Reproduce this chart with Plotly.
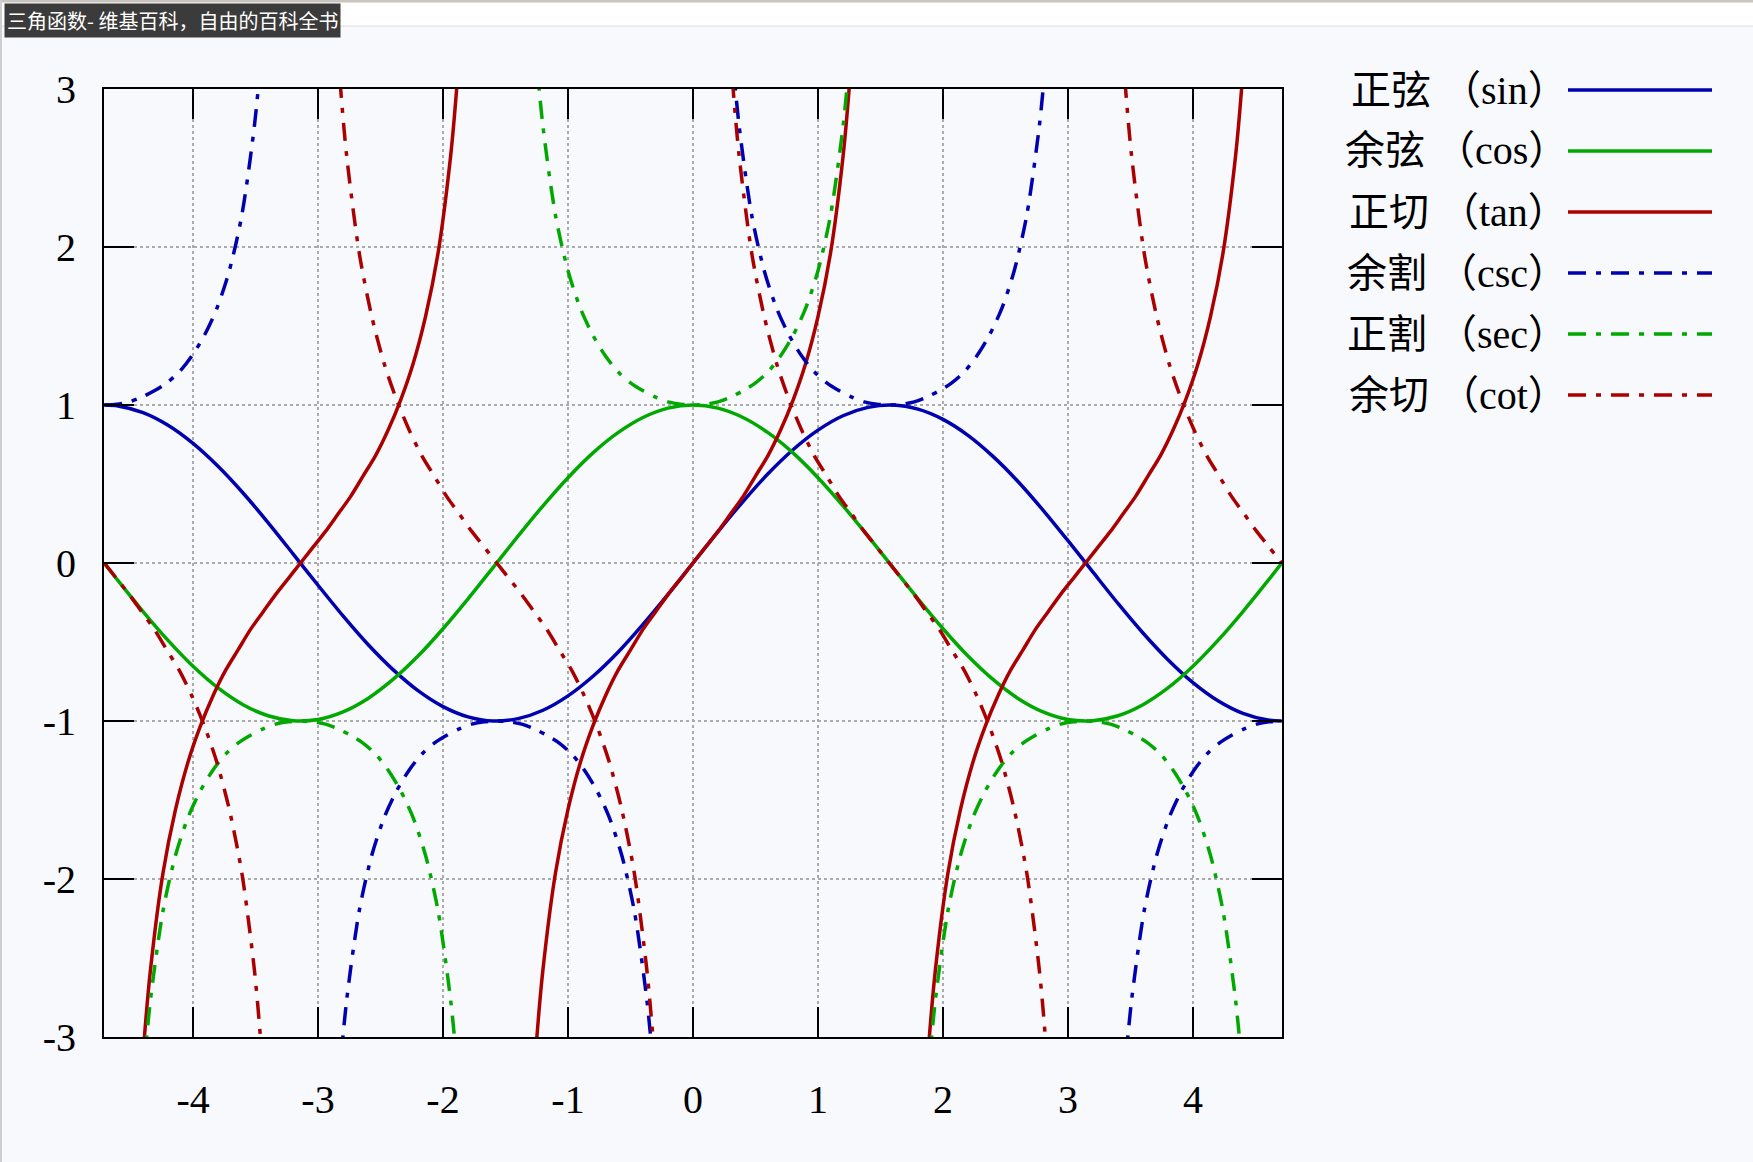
import plotly.graph_objects as go

# ---------------- data ----------------
x_sc = [-4.71, -4.6, -4.4, -4.2, -4.0, -3.8, -3.6, -3.4, -3.2, -3.0, -2.8, -2.6, -2.4, -2.2,
        -2.0, -1.8, -1.6, -1.4, -1.2, -1.0, -0.8, -0.6, -0.4, -0.2, 0.0, 0.2, 0.4, 0.6, 0.8,
        1.0, 1.2, 1.4, 1.6, 1.8, 2.0, 2.2, 2.4, 2.6, 2.8, 3.0, 3.2, 3.4, 3.6, 3.8, 4.0, 4.2,
        4.4, 4.6, 4.71]
sin_y = [1.0, 0.994, 0.952, 0.872, 0.757, 0.612, 0.443, 0.256, 0.058, -0.141, -0.335, -0.516,
         -0.675, -0.808, -0.909, -0.974, -1.0, -0.985, -0.932, -0.841, -0.717, -0.565, -0.389,
         -0.199, 0.0, 0.199, 0.389, 0.565, 0.717, 0.841, 0.932, 0.985, 1.0, 0.974, 0.909, 0.808,
         0.675, 0.516, 0.335, 0.141, -0.058, -0.256, -0.443, -0.612, -0.757, -0.872, -0.952,
         -0.994, -1.0]
cos_y = [0.0, -0.112, -0.307, -0.490, -0.654, -0.791, -0.897, -0.967, -0.998, -0.990, -0.942,
         -0.857, -0.737, -0.589, -0.416, -0.227, -0.029, 0.170, 0.362, 0.540, 0.697, 0.825,
         0.921, 0.980, 1.0, 0.980, 0.921, 0.825, 0.697, 0.540, 0.362, 0.170, -0.029, -0.227,
         -0.416, -0.589, -0.737, -0.857, -0.942, -0.990, -0.998, -0.967, -0.897, -0.791, -0.654,
         -0.490, -0.307, -0.112, 0.0]

tan_x = [-4.44, -4.39, -4.34, -4.24, -4.14, -4.04, -3.94, -3.84, -3.74, -3.64, -3.54, -3.44, -3.34,
         -3.24, -3.14, -3.04, -2.94, -2.84, -2.74, -2.64, -2.54, -2.44, -2.34, -2.24, -2.14, -2.04,
         -1.94, -1.89, -1.84, None,
         -1.3, -1.25, -1.2, -1.1, -1.0, -0.9, -0.8, -0.7, -0.6, -0.5, -0.4, -0.3, -0.2, -0.1, 0.0,
         0.1, 0.2, 0.3, 0.4, 0.5, 0.6, 0.7, 0.8, 0.9, 1.0, 1.1, 1.2, 1.25, 1.3, None,
         1.84, 1.89, 1.94, 2.04, 2.14, 2.24, 2.34, 2.44, 2.54, 2.64, 2.74, 2.84, 2.94, 3.04, 3.14,
         3.24, 3.34, 3.44, 3.54, 3.64, 3.74, 3.84, 3.94, 4.04, 4.14, 4.24, 4.34, 4.39, 4.44]
tan_y = [-3.60, -3.01, -2.57, -1.96, -1.56, -1.26, -1.03, -0.84, -0.68, -0.55, -0.42, -0.31, -0.20,
         -0.10, 0.0, 0.10, 0.20, 0.31, 0.42, 0.55, 0.68, 0.84, 1.03, 1.26, 1.56, 1.96, 2.57, 3.01,
         3.60, None,
         -3.60, -3.01, -2.57, -1.96, -1.56, -1.26, -1.03, -0.84, -0.68, -0.55, -0.42, -0.31, -0.20,
         -0.10, 0.0, 0.10, 0.20, 0.31, 0.42, 0.55, 0.68, 0.84, 1.03, 1.26, 1.56, 1.96, 2.57, 3.01,
         3.60, None,
         -3.60, -3.01, -2.57, -1.96, -1.56, -1.26, -1.03, -0.84, -0.68, -0.55, -0.42, -0.31, -0.20,
         -0.10, 0.0, 0.10, 0.20, 0.31, 0.42, 0.55, 0.68, 0.84, 1.03, 1.26, 1.56, 1.96, 2.57, 3.01,
         3.60]

csc_x = [-4.71, -4.61, -4.51, -4.41, -4.31, -4.21, -4.11, -4.01, -3.91, -3.81, -3.71, -3.61, -3.51,
         -3.46, -3.41, None,
         -2.87, -2.82, -2.77, -2.67, -2.57, -2.47, -2.37, -2.27, -2.17, -2.07, -1.97, -1.87, -1.77,
         -1.67, -1.57, -1.47, -1.37, -1.27, -1.17, -1.07, -0.97, -0.87, -0.77, -0.67, -0.57, -0.47,
         -0.37, -0.32, -0.27, None,
         0.27, 0.32, 0.37, 0.47, 0.57, 0.67, 0.77, 0.87, 0.97, 1.07, 1.17, 1.27, 1.37, 1.47, 1.57,
         1.67, 1.77, 1.87, 1.97, 2.07, 2.17, 2.27, 2.37, 2.47, 2.57, 2.67, 2.77, 2.82, 2.87, None,
         3.41, 3.46, 3.51, 3.61, 3.71, 3.81, 3.91, 4.01, 4.11, 4.21, 4.31, 4.41, 4.51, 4.61, 4.71]
csc_y = [1.0, 1.005, 1.02, 1.05, 1.09, 1.14, 1.21, 1.31, 1.44, 1.61, 1.85, 2.20, 2.76, 3.17, 3.74,
         None,
         -3.74, -3.17, -2.76, -2.20, -1.85, -1.61, -1.44, -1.31, -1.21, -1.14, -1.09, -1.05, -1.02,
         -1.005, -1.0, -1.005, -1.02, -1.05, -1.09, -1.14, -1.21, -1.31, -1.44, -1.61, -1.85, -2.20,
         -2.76, -3.17, -3.74, None,
         3.74, 3.17, 2.76, 2.20, 1.85, 1.61, 1.44, 1.31, 1.21, 1.14, 1.09, 1.05, 1.02, 1.005, 1.0,
         1.005, 1.02, 1.05, 1.09, 1.14, 1.21, 1.31, 1.44, 1.61, 1.85, 2.20, 2.76, 3.17, 3.74, None,
         -3.74, -3.17, -2.76, -2.20, -1.85, -1.61, -1.44, -1.31, -1.21, -1.14, -1.09, -1.05, -1.02,
         -1.005, -1.0]

sec_x = [-4.44, -4.39, -4.34, -4.24, -4.14, -4.04, -3.94, -3.84, -3.74, -3.64, -3.54, -3.44, -3.34,
         -3.24, -3.14, -3.04, -2.94, -2.84, -2.74, -2.64, -2.54, -2.44, -2.34, -2.24, -2.14, -2.04,
         -1.94, -1.89, -1.84, None,
         -1.3, -1.25, -1.2, -1.1, -1.0, -0.9, -0.8, -0.7, -0.6, -0.5, -0.4, -0.3, -0.2, -0.1, 0.0,
         0.1, 0.2, 0.3, 0.4, 0.5, 0.6, 0.7, 0.8, 0.9, 1.0, 1.1, 1.2, 1.25, 1.3, None,
         1.84, 1.89, 1.94, 2.04, 2.14, 2.24, 2.34, 2.44, 2.54, 2.64, 2.74, 2.84, 2.94, 3.04, 3.14,
         3.24, 3.34, 3.44, 3.54, 3.64, 3.74, 3.84, 3.94, 4.04, 4.14, 4.24, 4.34, 4.39, 4.44]
sec_y = [-3.74, -3.17, -2.76, -2.20, -1.85, -1.61, -1.44, -1.31, -1.21, -1.14, -1.09, -1.05, -1.02,
         -1.005, -1.0, -1.005, -1.02, -1.05, -1.09, -1.14, -1.21, -1.31, -1.44, -1.61, -1.85, -2.20,
         -2.76, -3.17, -3.74, None,
         3.74, 3.17, 2.76, 2.20, 1.85, 1.61, 1.44, 1.31, 1.21, 1.14, 1.09, 1.05, 1.02, 1.005, 1.0,
         1.005, 1.02, 1.05, 1.09, 1.14, 1.21, 1.31, 1.44, 1.61, 1.85, 2.20, 2.76, 3.17, 3.74, None,
         -3.74, -3.17, -2.76, -2.20, -1.85, -1.61, -1.44, -1.31, -1.21, -1.14, -1.09, -1.05, -1.02,
         -1.005, -1.0, -1.005, -1.02, -1.05, -1.09, -1.14, -1.21, -1.31, -1.44, -1.61, -1.85, -2.20,
         -2.76, -3.17, -3.74]

cot_x = [-4.71, -4.61, -4.51, -4.41, -4.31, -4.21, -4.11, -4.01, -3.91, -3.81, -3.71, -3.61, -3.51,
         -3.46, -3.41, None,
         -2.87, -2.82, -2.77, -2.67, -2.57, -2.47, -2.37, -2.27, -2.17, -2.07, -1.97, -1.87, -1.77,
         -1.67, -1.57, -1.47, -1.37, -1.27, -1.17, -1.07, -0.97, -0.87, -0.77, -0.67, -0.57, -0.47,
         -0.37, -0.32, -0.27, None,
         0.27, 0.32, 0.37, 0.47, 0.57, 0.67, 0.77, 0.87, 0.97, 1.07, 1.17, 1.27, 1.37, 1.47, 1.57,
         1.67, 1.77, 1.87, 1.97, 2.07, 2.17, 2.27, 2.37, 2.47, 2.57, 2.67, 2.77, 2.82, 2.87, None,
         3.41, 3.46, 3.51, 3.61, 3.71, 3.81, 3.91, 4.01, 4.11, 4.21, 4.31, 4.41, 4.51, 4.61, 4.71]
cot_y = [0.0, -0.10, -0.20, -0.31, -0.42, -0.55, -0.68, -0.84, -1.03, -1.26, -1.56, -1.96, -2.57,
         -3.01, -3.60, None,
         3.60, 3.01, 2.57, 1.96, 1.56, 1.26, 1.03, 0.84, 0.68, 0.55, 0.42, 0.31, 0.20, 0.10, 0.0,
         -0.10, -0.20, -0.31, -0.42, -0.55, -0.68, -0.84, -1.03, -1.26, -1.56, -1.96, -2.57, -3.01,
         -3.60, None,
         3.60, 3.01, 2.57, 1.96, 1.56, 1.26, 1.03, 0.84, 0.68, 0.55, 0.42, 0.31, 0.20, 0.10, 0.0,
         -0.10, -0.20, -0.31, -0.42, -0.55, -0.68, -0.84, -1.03, -1.26, -1.56, -1.96, -2.57, -3.01,
         -3.60, None,
         3.60, 3.01, 2.57, 1.96, 1.56, 1.26, 1.03, 0.84, 0.68, 0.55, 0.42, 0.31, 0.20, 0.10, 0.0]

series_names = ["正弦 （sin）", "余弦 （cos）", "正切 （tan）", "余割 （csc）", "正割 （sec）", "余切 （cot）"]
x_tick_vals = [-4, -3, -2, -1, 0, 1, 2, 3, 4]
x_tick_text = ["-4", "-3", "-2", "-1", "0", "1", "2", "3", "4"]
y_tick_vals = [-3, -2, -1, 0, 1, 2, 3]
y_tick_text = ["-3", "-2", "-1", "0", "1", "2", "3"]
page_title = "三角函数- 维基百科，自由的百科全书"

# ---------------- styling ----------------
W, H = 1753, 1162
L, R, T, B = 104, 1282, 89, 1037
BLUE, GREEN, RED = "#0000b0", "#00a800", "#aa0000"
DASHDOT = "18px,10px,5px,10px"
BG = "#f8f9fd"
SERIF = "Liberation Serif, Noto Sans CJK SC, serif"


def px(v):
    return (v - L) / (R - L)


def py(v):
    return (B - v) / (B - T)


styles = [(BLUE, "solid"), (GREEN, "solid"), (RED, "solid"),
          (BLUE, DASHDOT), (GREEN, DASHDOT), (RED, DASHDOT)]
data = [(x_sc, sin_y), (x_sc, cos_y), (tan_x, tan_y), (csc_x, csc_y), (sec_x, sec_y), (cot_x, cot_y)]

fig = go.Figure()
for (xs, ys), (col, dash), name in zip(data, styles, series_names):
    fig.add_trace(go.Scatter(x=xs, y=ys, mode="lines", name=name, connectgaps=False,
                             line=dict(color=col, width=3.5, dash=dash, shape="spline", smoothing=0.8),
                             showlegend=False))

axis_common = dict(showline=True, linecolor="black", linewidth=2, mirror="ticks",
                   ticks="inside", ticklen=30, tickwidth=2, tickcolor="black",
                   showgrid=True, gridcolor="#ababab", gridwidth=1.5, griddash="dot",
                   zeroline=False, tickfont=dict(family=SERIF, size=40, color="black"))

fig.update_xaxes(range=[-4.7124, 4.7124], tickvals=x_tick_vals, ticktext=x_tick_text,
                 ticklabelstandoff=26, **axis_common)
fig.update_yaxes(range=[-3, 3], tickvals=y_tick_vals, ticktext=y_tick_text,
                 ticklabelstandoff=18, **axis_common)

shapes = []
annotations = []
# browser chrome
shapes.append(dict(type="rect", xref="paper", yref="paper", x0=px(0), x1=px(W), y0=py(0), y1=py(26),
                   fillcolor="white", line=dict(width=0), layer="below"))
shapes.append(dict(type="line", xref="paper", yref="paper", x0=px(0), x1=px(W), y0=py(1), y1=py(1),
                   line=dict(color="#c9c4be", width=3), layer="below"))
shapes.append(dict(type="line", xref="paper", yref="paper", x0=px(0), x1=px(W), y0=py(26), y1=py(26),
                   line=dict(color="#dcdcdc", width=1), layer="below"))
shapes.append(dict(type="line", xref="paper", yref="paper", x0=px(1), x1=px(1), y0=py(0), y1=py(H),
                   line=dict(color="#cfcfcf", width=2), layer="below"))
annotations.append(dict(text=page_title, xref="paper", yref="paper", x=px(4), y=py(3),
                        xanchor="left", yanchor="top", showarrow=False, bgcolor="#3b3b3b",
                        borderpad=2, font=dict(family="Noto Sans CJK SC", size=20, color="white")))

# manual legend (text left, line sample right)
row_y = [90, 151, 212, 273, 334, 395]
for name, (col, dash), ry in zip(series_names, styles, row_y):
    annotations.append(dict(text=name, xref="paper", yref="paper", x=px(1570), y=py(ry),
                            xanchor="right", yanchor="middle", showarrow=False,
                            font=dict(family=SERIF, size=40, color="black")))
    shapes.append(dict(type="line", xref="paper", yref="paper", x0=px(1568), x1=px(1712),
                       y0=py(ry), y1=py(ry), line=dict(color=col, width=3.5, dash=dash)))

fig.update_layout(width=W, height=H, margin=dict(l=L, r=W - R, t=T, b=H - B),
                  paper_bgcolor=BG, plot_bgcolor=BG, shapes=shapes, annotations=annotations,
                  showlegend=False)

fig.write_html("out.html")
